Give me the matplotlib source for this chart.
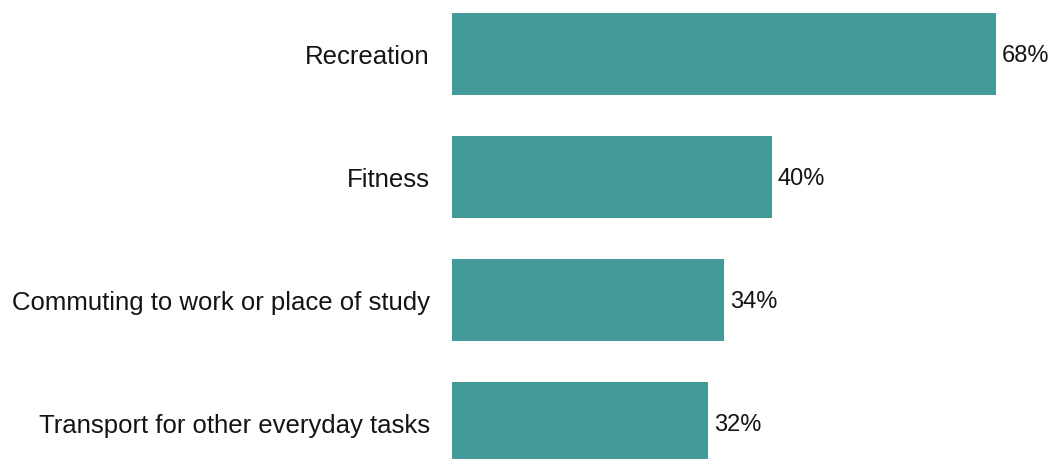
import matplotlib.pyplot as plt

# Share of respondents by reason for cycling
reasons = [
    "Recreation",
    "Fitness",
    "Commuting to work or place of study",
    "Transport for other everyday tasks",
]
shares = [68, 40, 34, 32]

BAR_COLOR = "#439a99"
FONT = ["Liberation Sans", "DejaVu Sans"]

fig = plt.figure(figsize=(10.52, 4.60), dpi=100)
ax = fig.add_axes([452 / 1052, 0, 600 / 1052, 1])

ypos = list(range(len(reasons)))
ax.barh(ypos, shares, height=0.667, color=BAR_COLOR)

for y, v in zip(ypos, shares):
    ax.annotate(f"{v}%", (v, y), xytext=(4.3, -0.5), textcoords="offset points",
                ha="left", va="center", fontsize=17, family=FONT,
                color="#141414")

ax.set_xlim(0, 75)
ax.set_ylim(3.293, -0.447)
ax.set_yticks(ypos)
ax.set_yticklabels(reasons, fontsize=18.5, family=FONT, color="#141414")
ax.tick_params(axis="y", length=0, pad=16)
ax.set_xticks([])
for spine in ax.spines.values():
    spine.set_visible(False)

fig.savefig("out.png", dpi=100)
